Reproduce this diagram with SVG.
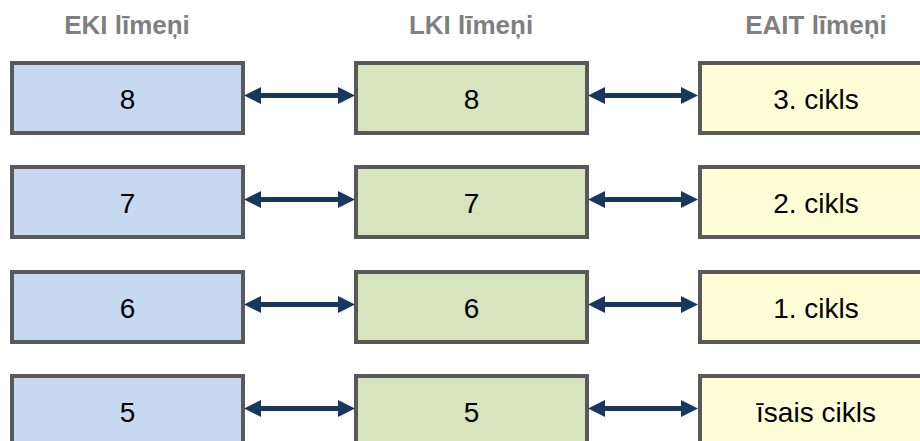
<svg xmlns="http://www.w3.org/2000/svg" width="920" height="441" viewBox="0 0 920 441">
<style>
.hdr{font-family:"Liberation Sans",Arial,sans-serif;font-size:26px;font-weight:bold;fill:#7f7f7f;text-anchor:middle}
.lbl{font-family:"Liberation Sans",Arial,sans-serif;font-size:28px;fill:#000;text-anchor:middle}
.box{stroke:#595959;stroke-width:4}
.eki{fill:#c6d9f1}
.lki{fill:#d7e4bd}
.eait{fill:#ffffd7}
.conn{stroke:#17375e;stroke-width:5;fill:none;marker-start:url(#ah);marker-end:url(#ah)}
</style>
<defs>
<marker id="ah" markerUnits="userSpaceOnUse" markerWidth="17" markerHeight="17" refX="0" refY="8.5" orient="auto-start-reverse" viewBox="0 0 17 17">
<path d="M0,0 L17,8.5 L0,17 z" fill="#17375e"/>
</marker>
</defs>
<rect width="920" height="441" fill="#fff"/>
<g id="headers">
<text class="hdr" x="127" y="34">EKI līmeņi</text>
<text class="hdr" x="471" y="34">LKI līmeņi</text>
<text class="hdr" x="816" y="34">EAIT līmeņi</text>
</g>
<g id="eki8"><rect class="box eki" x="12" y="63" width="231" height="70"/><text class="lbl" x="127.5" y="108.5">8</text></g>
<g id="lki8"><rect class="box lki" x="356" y="63" width="231" height="70"/><text class="lbl" x="471.5" y="108.5">8</text></g>
<g id="eait8"><rect class="box eait" x="700" y="63" width="232" height="70"/><text class="lbl" x="816" y="108.5">3. cikls</text></g>
<g id="eki7"><rect class="box eki" x="12" y="167" width="231" height="70"/><text class="lbl" x="127.5" y="212.5">7</text></g>
<g id="lki7"><rect class="box lki" x="356" y="167" width="231" height="70"/><text class="lbl" x="471.5" y="212.5">7</text></g>
<g id="eait7"><rect class="box eait" x="700" y="167" width="232" height="70"/><text class="lbl" x="816" y="212.5">2. cikls</text></g>
<g id="eki6"><rect class="box eki" x="12" y="272" width="231" height="70"/><text class="lbl" x="127.5" y="317.5">6</text></g>
<g id="lki6"><rect class="box lki" x="356" y="272" width="231" height="70"/><text class="lbl" x="471.5" y="317.5">6</text></g>
<g id="eait6"><rect class="box eait" x="700" y="272" width="232" height="70"/><text class="lbl" x="816" y="317.5">1. cikls</text></g>
<g id="eki5"><rect class="box eki" x="12" y="376" width="231" height="70"/><text class="lbl" x="127.5" y="421.5">5</text></g>
<g id="lki5"><rect class="box lki" x="356" y="376" width="231" height="70"/><text class="lbl" x="471.5" y="421.5">5</text></g>
<g id="eait5"><rect class="box eait" x="700" y="376" width="232" height="70"/><text class="lbl" x="816" y="421.5">īsais cikls</text></g>
<g id="connectors">
<line class="conn" x1="261" y1="95.5" x2="338" y2="95.5"/>
<line class="conn" x1="605" y1="95.5" x2="681" y2="95.5"/>
<line class="conn" x1="261" y1="199.5" x2="338" y2="199.5"/>
<line class="conn" x1="605" y1="199.5" x2="681" y2="199.5"/>
<line class="conn" x1="261" y1="304.5" x2="338" y2="304.5"/>
<line class="conn" x1="605" y1="304.5" x2="681" y2="304.5"/>
<line class="conn" x1="261" y1="408.5" x2="338" y2="408.5"/>
<line class="conn" x1="605" y1="408.5" x2="681" y2="408.5"/>
</g>
</svg>
